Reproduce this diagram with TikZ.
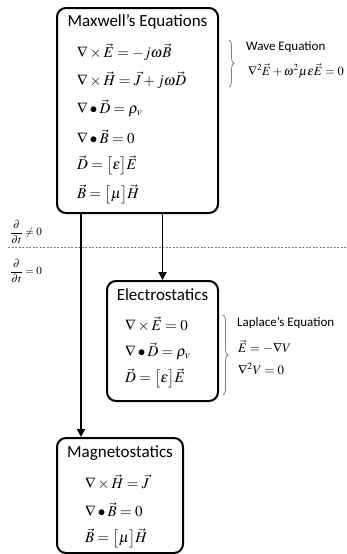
\documentclass[tikz,border=0pt]{standalone}
\usepackage{mathptmx}
\usepackage[no-math]{fontspec}
\setmainfont{Carlito}
\definecolor{mlgray}{RGB}{127,127,127}
\usetikzlibrary{arrows.meta,positioning,calc,decorations.pathreplacing}

\begin{document}
\begin{tikzpicture}[
  x=1pt,y=-1pt,
  every node/.style={inner sep=0pt},
  eqbox/.style={draw,line width=2pt,rounded corners=9pt},
  ttl/.style={font=\fontsize{17}{20}\selectfont},
  eq/.style={anchor=west,font=\fontsize{15}{18}\selectfont},
  note/.style={anchor=west,font=\fontsize{13}{15}\selectfont},
  arr/.style={-{Triangle[length=8pt,width=8pt]},line width=1.8pt},
  brc/.style={decorate,decoration={brace,amplitude=5pt},draw=mlgray,line width=0.8pt},
]
  \useasboundingbox (0,0) rectangle (346,554);

  % Maxwell's equations
  \node[eqbox,minimum width=161pt,minimum height=205pt] (maxwell) at (137.5,110.5) {};
  \node[ttl] (maxwellT) at (137.5,22) {Maxwell's Equations};
  \node[eq] (me1) at (77,52)  {$\nabla\times\vec{E}=-j\omega\vec{B}$};
  \node[eq] (me2) at (77,80)  {$\nabla\times\vec{H}=\vec{J}+j\omega\vec{D}$};
  \node[eq] (me3) at (77,108) {$\nabla\bullet\vec{D}=\rho_v$};
  \node[eq] (me4) at (77,137) {$\nabla\bullet\vec{B}=0$};
  \node[eq] (me5) at (77,165) {$\vec{D}=\bigl[\varepsilon\bigr]\vec{E}$};
  \node[eq] (me6) at (77,194) {$\vec{B}=\bigl[\mu\bigr]\vec{H}$};

  % Wave equation
  \draw[brc] (229,40) -- (229,87);
  \node[note] (waveT) at (246,47) {Wave Equation};
  \node[note,font=\fontsize{12.5}{15}\selectfont] (waveE) at (248,71) {$\nabla^2\vec{E}+\omega^2\mu\varepsilon\vec{E}=0$};

  % time derivative split
  \node[note,font=\fontsize{11}{13}\selectfont] (dtne) at (10,232) {$\displaystyle\frac{\partial}{\partial t}\neq 0$};
  \node[note,font=\fontsize{11}{13}\selectfont] (dteq) at (10,271) {$\displaystyle\frac{\partial}{\partial t}=0$};
  \coordinate (cutL) at (8,247);
  \coordinate (cutR) at (346,247);
  \draw[mlgray,line width=0.8pt,dash pattern=on 2pt off 1.5pt] (cutL) -- (cutR);

  % Electrostatics
  \node[eqbox,minimum width=111pt,minimum height=120pt] (electro) at (162.5,341) {};
  \node[ttl] (electroT) at (162.5,295) {Electrostatics};
  \node[eq] (es1) at (125,324) {$\nabla\times\vec{E}=0$};
  \node[eq] (es2) at (125,351) {$\nabla\bullet\vec{D}=\rho_v$};
  \node[eq] (es3) at (125,378) {$\vec{D}=\bigl[\varepsilon\bigr]\vec{E}$};

  % Laplace's equation
  \draw[brc] (223,315) -- (223,395);
  \node[note] (lapT) at (237,323) {Laplace's Equation};
  \node[note] (lapE1) at (238,347) {$\vec{E}=-\nabla V$};
  \node[note] (lapE2) at (238,369) {$\nabla^2V=0$};

  % Magnetostatics
  \node[eqbox,minimum width=126pt,minimum height=115pt] (magneto) at (120,495.5) {};
  \node[ttl] (magnetoT) at (120,453) {Magnetostatics};
  \node[eq] (ms1) at (85,482) {$\nabla\times\vec{H}=\vec{J}$};
  \node[eq] (ms2) at (85,510) {$\nabla\bullet\vec{B}=0$};
  \node[eq] (ms3) at (85,538) {$\vec{B}=\bigl[\mu\bigr]\vec{H}$};

  % Arrows
  \draw[arr] (maxwell.south -| electro.north) -- (electro.north);
  \draw[arr] ([xshift=25pt]maxwell.south west) -- ([xshift=25pt]maxwell.south west |- magneto.north);
\end{tikzpicture}
\end{document}
